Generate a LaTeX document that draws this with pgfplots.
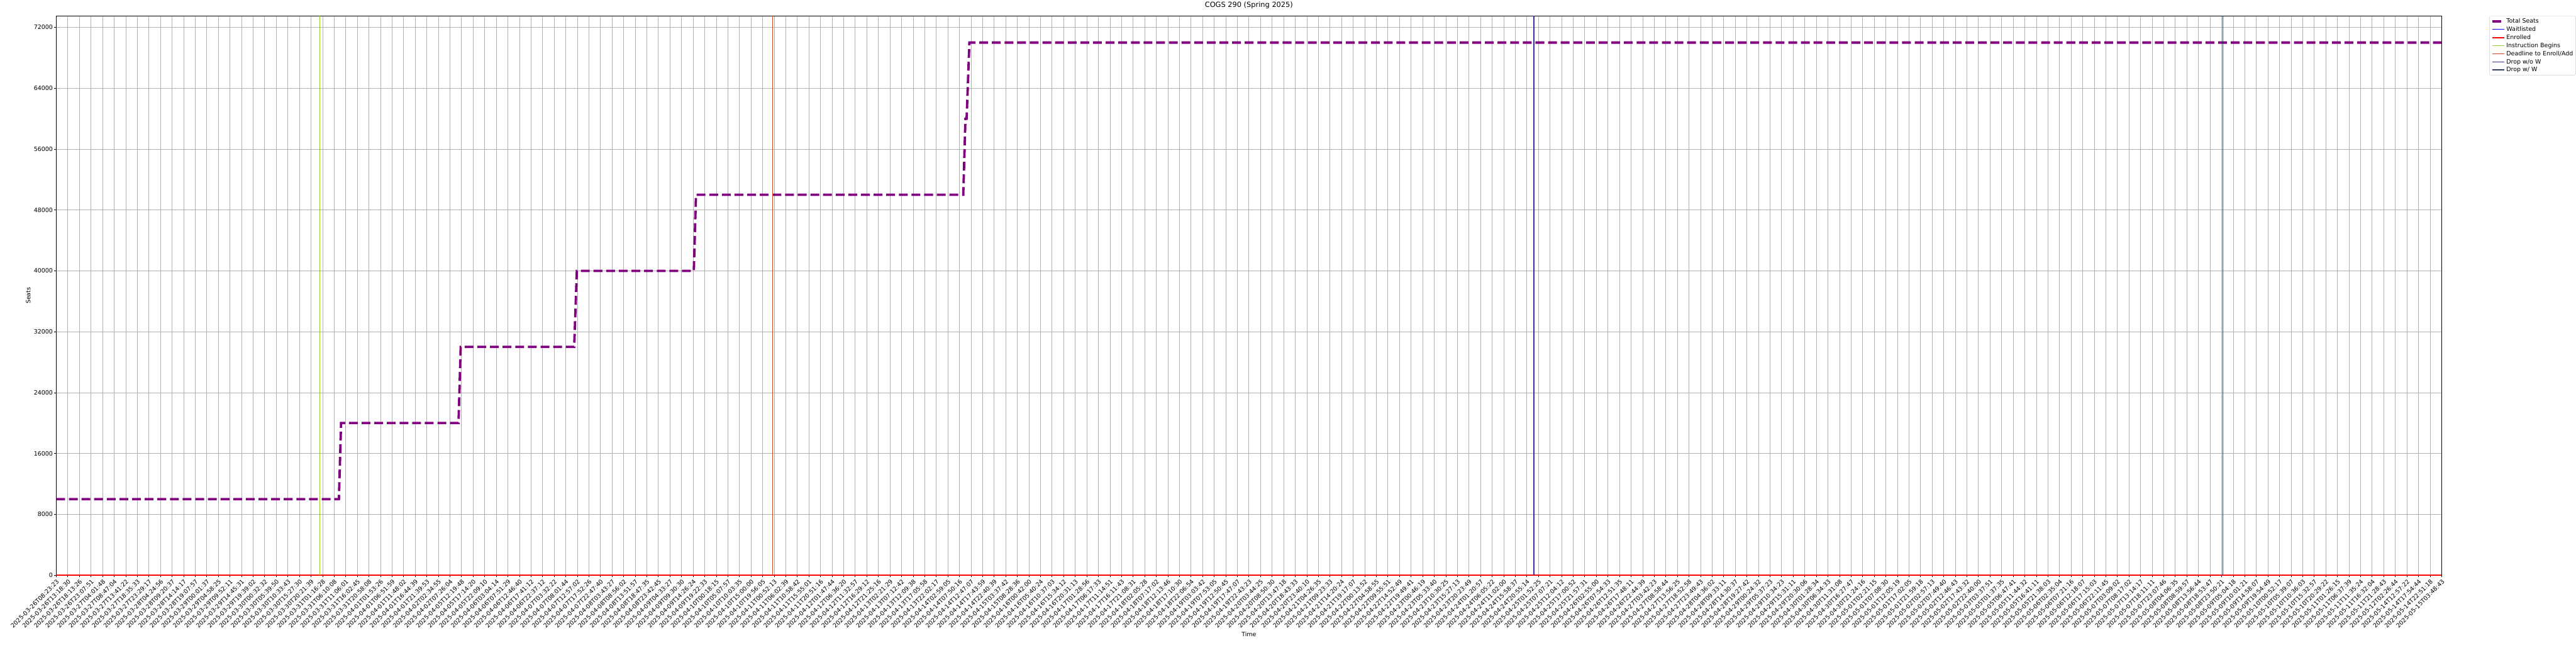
\documentclass[border=0pt]{standalone}
\usepackage{pgfplots}
\pgfplotsset{compat=1.18}
\usepackage{fontspec}
\setmainfont{DejaVu Sans}
\definecolor{seatpurple}{HTML}{800080}
\definecolor{gridgray}{HTML}{B0B0B0}
\definecolor{instr}{HTML}{9ACD32}
\definecolor{deadl}{HTML}{D2461E}
\definecolor{dropwo}{HTML}{34349A}
\definecolor{dropw}{HTML}{2F3F5F}
\begin{document}
\begin{tikzpicture}
\path[use as bounding box] (-94.3pt,-115.9pt) rectangle (4225.7pt,964.1pt);
\begin{axis}[
  scale only axis,
  width=4000.3pt, height=937.4pt,
  xmin=0, xmax=206, ymin=0, ymax=73500,
  axis line style={line width=0.8pt},
  tick style={line width=0.8pt, black},
  tick align=outside,
  xtick pos=left, ytick pos=left,
  major tick length=3.5pt,
  xtick={0,...,206},
  xticklabels={2025-03-26T08:23:23,2025-03-26T13:18:30,2025-03-26T18:13:26,2025-03-26T23:07:51,2025-03-27T04:01:48,2025-03-27T08:47:04,2025-03-27T13:41:22,2025-03-27T18:35:33,2025-03-27T23:29:17,2025-03-28T04:24:56,2025-03-28T09:20:37,2025-03-28T14:14:17,2025-03-28T19:07:57,2025-03-29T00:01:37,2025-03-29T04:58:25,2025-03-29T09:52:11,2025-03-29T14:45:31,2025-03-29T19:39:02,2025-03-30T00:32:32,2025-03-30T05:39:50,2025-03-30T10:33:43,2025-03-30T15:27:30,2025-03-30T20:21:39,2025-03-31T01:16:28,2025-03-31T06:10:08,2025-03-31T11:06:01,2025-03-31T16:02:45,2025-03-31T20:58:08,2025-04-01T01:53:26,2025-04-01T06:51:59,2025-04-01T11:48:02,2025-04-01T16:44:39,2025-04-01T21:39:53,2025-04-02T02:34:55,2025-04-02T07:26:04,2025-04-05T12:19:48,2025-04-05T17:14:20,2025-04-05T22:09:10,2025-04-06T03:04:14,2025-04-06T07:51:29,2025-04-06T12:46:40,2025-04-06T17:41:12,2025-04-06T22:37:12,2025-04-07T03:32:22,2025-04-07T08:01:44,2025-04-07T12:57:02,2025-04-07T17:52:26,2025-04-07T22:47:40,2025-04-08T03:43:27,2025-04-08T08:56:02,2025-04-08T13:51:57,2025-04-08T18:47:35,2025-04-08T23:42:45,2025-04-09T04:33:27,2025-04-09T09:30:30,2025-04-09T14:26:24,2025-04-09T19:22:33,2025-04-10T00:18:15,2025-04-10T05:07:57,2025-04-10T10:03:35,2025-04-10T15:00:00,2025-04-10T19:56:05,2025-04-11T00:52:13,2025-04-11T06:02:39,2025-04-11T10:58:42,2025-04-11T15:55:01,2025-04-11T20:51:16,2025-04-12T01:47:44,2025-04-12T06:36:20,2025-04-12T11:32:57,2025-04-12T16:29:12,2025-04-12T21:25:16,2025-04-13T02:21:29,2025-04-13T07:12:42,2025-04-13T12:09:38,2025-04-13T17:05:58,2025-04-13T22:02:17,2025-04-14T02:59:05,2025-04-14T07:50:16,2025-04-14T12:47:07,2025-04-14T17:43:59,2025-04-14T22:40:39,2025-04-15T03:37:42,2025-04-15T08:28:36,2025-04-16T00:42:00,2025-04-16T05:40:24,2025-04-16T10:37:03,2025-04-16T15:34:12,2025-04-16T20:31:13,2025-04-17T01:28:56,2025-04-17T06:17:33,2025-04-17T11:14:51,2025-04-17T16:11:43,2025-04-17T21:08:31,2025-04-18T02:05:28,2025-04-18T07:17:02,2025-04-18T12:13:46,2025-04-18T17:10:30,2025-04-18T22:06:54,2025-04-19T03:03:42,2025-04-19T07:53:05,2025-04-19T12:50:45,2025-04-19T17:47:07,2025-04-19T22:43:23,2025-04-20T03:44:25,2025-04-20T08:50:30,2025-04-20T13:47:18,2025-04-20T18:43:33,2025-04-20T23:40:10,2025-04-21T04:26:35,2025-04-21T09:23:33,2025-04-21T14:20:24,2025-04-21T19:17:07,2025-04-22T00:13:52,2025-04-22T04:58:55,2025-04-22T09:55:51,2025-04-22T14:52:49,2025-04-22T19:49:41,2025-04-23T00:46:19,2025-04-23T05:33:40,2025-04-23T10:30:25,2025-04-23T15:27:13,2025-04-23T20:23:49,2025-04-24T01:20:57,2025-04-24T06:05:22,2025-04-24T11:02:00,2025-04-24T15:58:37,2025-04-24T20:55:14,2025-04-25T01:52:25,2025-04-25T07:07:21,2025-04-25T12:04:12,2025-04-25T17:00:52,2025-04-25T21:57:31,2025-04-26T02:55:00,2025-04-26T07:54:33,2025-04-26T12:51:35,2025-04-26T17:48:11,2025-04-26T22:44:39,2025-04-27T03:42:23,2025-04-27T08:58:44,2025-04-27T13:56:25,2025-04-27T18:52:58,2025-04-27T23:49:43,2025-04-28T04:36:02,2025-04-28T09:33:11,2025-04-28T14:30:37,2025-04-28T19:27:42,2025-04-29T00:24:32,2025-04-29T05:37:23,2025-04-29T10:34:23,2025-04-29T15:31:11,2025-04-29T20:30:06,2025-04-30T01:28:34,2025-04-30T06:34:33,2025-04-30T11:31:08,2025-04-30T16:27:47,2025-04-30T21:24:16,2025-05-01T02:21:15,2025-05-01T07:08:30,2025-05-01T12:05:19,2025-05-01T17:02:05,2025-05-01T21:59:18,2025-05-02T02:57:13,2025-05-02T07:49:40,2025-05-02T12:46:43,2025-05-02T17:43:32,2025-05-02T22:40:00,2025-05-03T03:37:51,2025-05-05T01:37:35,2025-05-05T06:47:41,2025-05-05T11:44:32,2025-05-05T16:41:11,2025-05-05T21:38:03,2025-05-06T02:35:04,2025-05-06T07:21:16,2025-05-06T12:18:07,2025-05-06T17:15:03,2025-05-06T22:11:45,2025-05-07T03:09:02,2025-05-07T08:17:02,2025-05-07T13:14:17,2025-05-07T18:11:11,2025-05-07T23:07:46,2025-05-08T04:06:35,2025-05-08T08:59:57,2025-05-08T13:56:44,2025-05-08T18:53:47,2025-05-08T23:50:21,2025-05-09T05:04:18,2025-05-09T10:01:21,2025-05-09T14:58:07,2025-05-09T19:54:49,2025-05-10T00:52:17,2025-05-10T05:39:07,2025-05-10T10:36:03,2025-05-10T15:32:57,2025-05-10T20:29:22,2025-05-11T01:26:15,2025-05-11T06:37:39,2025-05-11T11:35:24,2025-05-11T16:32:04,2025-05-11T21:28:43,2025-05-12T02:26:44,2025-05-14T12:57:22,2025-05-14T17:54:44,2025-05-14T22:51:18,2025-05-15T03:48:43},
  xticklabel style={rotate=45, anchor=north east, inner sep=2pt, font=\fontsize{10}{12}\selectfont},
  ytick={0,8000,16000,24000,32000,40000,48000,56000,64000,72000},
  scaled y ticks=false,
  yticklabel style={font=\fontsize{10}{12}\selectfont, inner sep=2pt,
    /pgf/number format/fixed, /pgf/number format/1000 sep={},
    /pgf/number format/assume math mode=true},
  grid=major,
  major grid style={gridgray, line width=0.8pt},
  title={COGS 290 (Spring 2025)},
  title style={font=\fontsize{12}{14}\selectfont, inner sep=0pt, yshift=6pt},
  xlabel={Time}, ylabel={Seats},
  label style={font=\fontsize{10}{12}\selectfont},
  legend cell align=left,
  legend style={at={(1.02,1)}, anchor=north west, draw=black!20, fill=white, rounded corners=2pt,
    font=\fontsize{10}{12}\selectfont, row sep=1.5pt, inner sep=3pt,
    nodes={inner sep=1.5pt}},
  legend image code/.code={\draw[#1] (0pt,0pt) -- (20pt,0pt);},
]
\addplot[seatpurple, line width=4pt, dash pattern=on 14.8pt off 6.4pt] coordinates {
(0,10000) (24.41,10000) (24.60,20000) (34.74,20000) (34.93,30000) (44.73,30000) (44.96,40000)
(55.06,40000) (55.25,50000) (78.33,50000) (78.52,60000) (78.62,60000) (78.86,70000) (206,70000)};
\addlegendentry{Total Seats}
\addplot[blue, line width=1pt] coordinates {(0,0) (206,0)};
\addlegendentry{Waitlisted}
\addplot[red, line width=2pt] coordinates {(0,0) (206,0)};
\addlegendentry{Enrolled}
\addplot[instr, line width=1.5pt] coordinates {(22.75,0) (22.75,73500)};
\addlegendentry{Instruction Begins}
\addplot[deadl, line width=1.5pt] coordinates {(61.87,0) (61.87,73500)};
\addlegendentry{Deadline to Enroll/Add}
\addplot[dropwo, line width=1.5pt] coordinates {(127.6,0) (127.6,73500)};
\addlegendentry{Drop w/o W}
\addplot[dropw, line width=1.5pt] coordinates {(187.1,0) (187.1,73500)};
\addlegendentry{Drop w/ W}
\end{axis}
\end{tikzpicture}
\end{document}
